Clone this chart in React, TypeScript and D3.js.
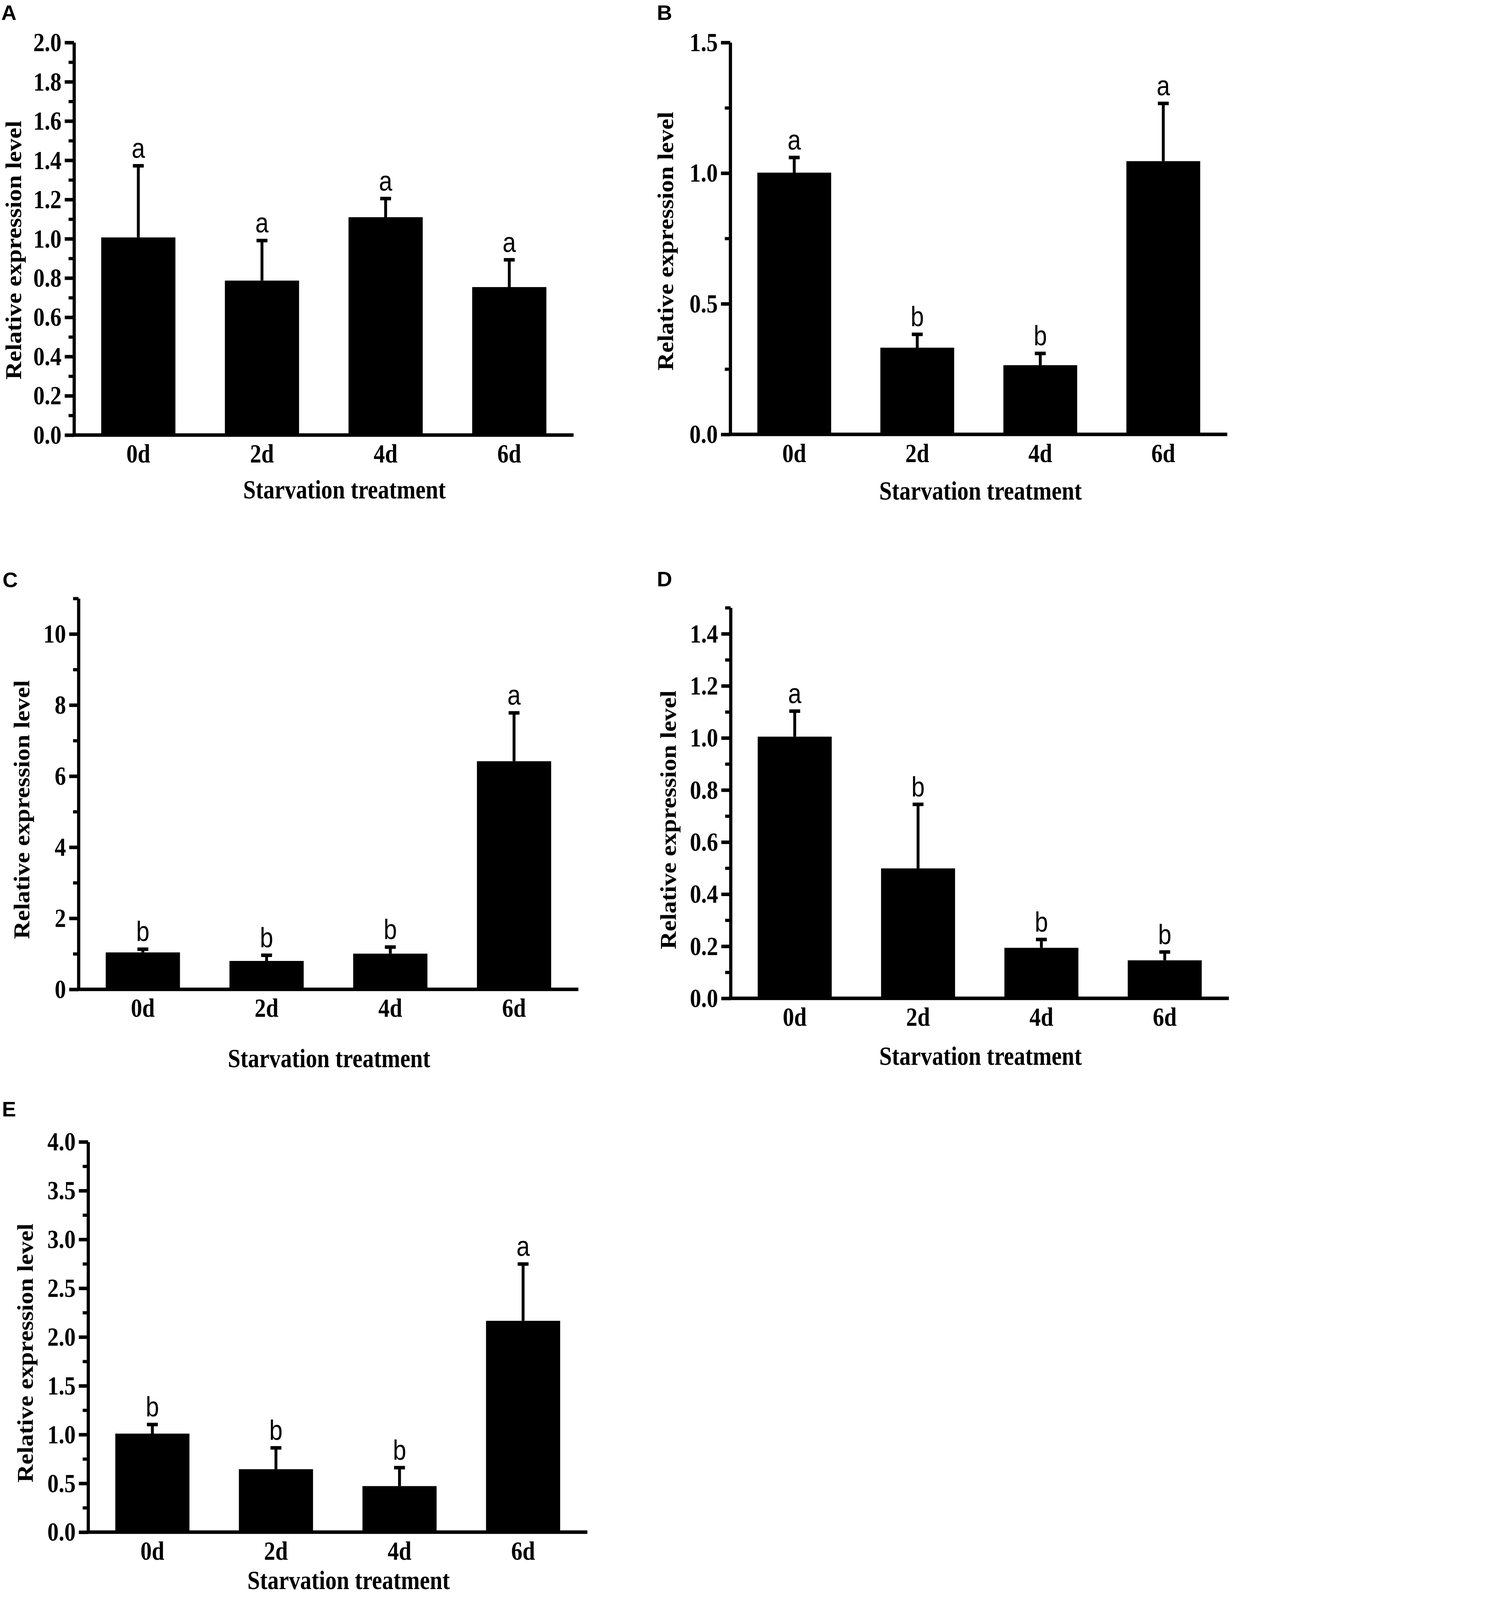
import React, { useEffect, useRef } from 'react';
import * as d3 from 'd3';

// categories shared by all five panels
const categories = ['0d', '2d', '4d', '6d'];

// panel A
const meansA = [1.007, 0.787, 1.11, 0.754];
const errorsA = [0.365, 0.204, 0.095, 0.139];
const lettersA = ['a', 'a', 'a', 'a'];
const majorTicksA = [0, 0.2, 0.4, 0.6, 0.8, 1.0, 1.2, 1.4, 1.6, 1.8, 2.0];
const minorTicksA = [0.1, 0.3, 0.5, 0.7, 0.9, 1.1, 1.3, 1.5, 1.7, 1.9];

// panel B
const meansB = [1.002, 0.332, 0.265, 1.046];
const errorsB = [0.058, 0.051, 0.045, 0.221];
const lettersB = ['a', 'b', 'b', 'a'];
const majorTicksB = [0, 0.5, 1.0, 1.5];
const minorTicksB = [0.25, 0.75, 1.25];

// panel C
const meansC = [1.04, 0.8, 1.005, 6.42];
const errorsC = [0.09, 0.16, 0.185, 1.36];
const lettersC = ['b', 'b', 'b', 'a'];
const majorTicksC = [0, 2, 4, 6, 8, 10];
const minorTicksC = [1, 3, 5, 7, 9, 11];

// panel D
const meansD = [1.005, 0.499, 0.194, 0.146];
const errorsD = [0.098, 0.246, 0.032, 0.032];
const lettersD = ['a', 'b', 'b', 'b'];
const majorTicksD = [0, 0.2, 0.4, 0.6, 0.8, 1.0, 1.2, 1.4];
const minorTicksD = [0.1, 0.3, 0.5, 0.7, 0.9, 1.1, 1.3, 1.5];

// panel E
const meansE = [1.01, 0.645, 0.472, 2.166];
const errorsE = [0.093, 0.219, 0.189, 0.582];
const lettersE = ['b', 'b', 'b', 'a'];
const majorTicksE = [0, 0.5, 1.0, 1.5, 2.0, 2.5, 3.0, 3.5, 4.0];
const minorTicksE = [0.25, 0.75, 1.25, 1.75, 2.25, 2.75, 3.25, 3.75];

const Y_TITLE = 'Relative expression level';
const X_TITLE = 'Starvation treatment';

const W = 3850;
const H = 4992;
const SERIF = '"Liberation Serif", "Times New Roman", serif';
const SANS = '"Liberation Sans", Arial, sans-serif';
const SX = 0.85; // the original figure is stretched vertically

const panels = [
  { id: 'A', means: meansA, errors: errorsA, letters: lettersA, yMax: 2.0, major: majorTicksA, minor: minorTicksA, fmt: '.1f',
    axisX: 231, top: 132, base: 1357, xEnd: 1790, label: [4, 62], yTitle: [45, 780], xTitleX: 1075, xTitleDy: 198 },
  { id: 'B', means: meansB, errors: errorsB, letters: lettersB, yMax: 1.5, major: majorTicksB, minor: minorTicksB, fmt: '.1f',
    axisX: 2279, top: 132, base: 1355, xEnd: 3830, label: [2050, 62], yTitle: [2079, 752], xTitleX: 3060, xTitleDy: 204 },
  { id: 'C', means: meansC, errors: errorsC, letters: lettersC, yMax: 11, major: majorTicksC, minor: minorTicksC, fmt: 'd',
    axisX: 245, top: 1867, base: 3087, xEnd: 1805, label: [8, 1831], yTitle: [70, 2526], xTitleX: 1027, xTitleDy: 243 },
  { id: 'D', means: meansD, errors: errorsD, letters: lettersD, yMax: 1.5, major: majorTicksD, minor: minorTicksD, fmt: '.1f',
    axisX: 2280, top: 1896, base: 3115, xEnd: 3835, label: [2050, 1829], yTitle: [2088, 2558], xTitleX: 3060, xTitleDy: 208 },
  { id: 'E', means: meansE, errors: errorsE, letters: lettersE, yMax: 4.0, major: majorTicksE, minor: minorTicksE, fmt: '.1f',
    axisX: 275, top: 3563, base: 4781, xEnd: 1833, label: [6, 3484], yTitle: [82, 4222], xTitleX: 1088, xTitleDy: 178 },
];

type Panel = typeof panels[number];

const drawPanel = (root: d3.Selection<SVGSVGElement, unknown, null, undefined>, p: Panel) => {
  const g = root.append('g');

  const x = d3.scaleBand<string>()
    .domain(categories)
    .range([p.axisX, p.xEnd])
    .paddingInner(0.4)
    .paddingOuter(0.22);

  const y = d3.scaleLinear()
    .domain([0, p.yMax])
    .range([p.base, p.top]);

  const cx = (i: number) => (x(categories[i]) || 0) + x.bandwidth() / 2;

  // bars
  g.selectAll('rect.bar')
    .data(p.means)
    .join('rect')
    .attr('class', 'bar')
    .attr('x', (_, i) => x(categories[i]) || 0)
    .attr('y', d => y(d))
    .attr('width', x.bandwidth())
    .attr('height', d => p.base - y(d))
    .attr('fill', '#000');

  // error bars (upper half only)
  g.selectAll('line.stem')
    .data(p.means)
    .join('line')
    .attr('class', 'stem')
    .attr('x1', (_, i) => cx(i))
    .attr('x2', (_, i) => cx(i))
    .attr('y1', d => y(d))
    .attr('y2', (d, i) => y(d + p.errors[i]))
    .attr('stroke', '#000')
    .attr('stroke-width', 9);

  g.selectAll('line.cap')
    .data(p.means)
    .join('line')
    .attr('class', 'cap')
    .attr('x1', (_, i) => cx(i) - 17)
    .attr('x2', (_, i) => cx(i) + 17)
    .attr('y1', (d, i) => y(d + p.errors[i]))
    .attr('y2', (d, i) => y(d + p.errors[i]))
    .attr('stroke', '#000')
    .attr('stroke-width', 11);

  // significance letters
  g.selectAll('text.sig')
    .data(p.letters)
    .join('text')
    .attr('class', 'sig')
    .attr('transform', (_, i) => `translate(${cx(i)},${y(p.means[i] + p.errors[i]) - 25}) scale(${SX},1)`)
    .attr('text-anchor', 'middle')
    .attr('font-family', SANS)
    .attr('font-size', 88)
    .text(d => d);

  // minor y ticks
  const minorAxis = g.append('g')
    .attr('transform', `translate(${p.axisX},0)`)
    .call(d3.axisLeft(y).tickValues(p.minor).tickSize(17).tickFormat(() => ''));
  minorAxis.select('.domain').remove();
  minorAxis.selectAll('.tick line').attr('stroke-width', 10);

  // major y ticks
  const yAxis = g.append('g')
    .attr('transform', `translate(${p.axisX},0)`)
    .call(d3.axisLeft(y).tickValues(p.major).tickSize(29).tickSizeOuter(0).tickPadding(10)
      .tickFormat(d => d3.format(p.fmt)(d as number)));
  yAxis.select('.domain').attr('stroke-width', 10);
  yAxis.selectAll('.tick line').attr('stroke-width', 11);
  yAxis.selectAll<SVGTextElement, unknown>('.tick text')
    .attr('x', -39 / SX)
    .attr('transform', `scale(${SX},1)`)
    .attr('font-family', SERIF)
    .attr('font-weight', 'bold')
    .attr('font-size', 83)
    .attr('fill', '#000');

  // x axis
  const xAxis = g.append('g')
    .attr('transform', `translate(0,${p.base})`)
    .call(d3.axisBottom(x).tickSize(0).tickSizeOuter(0));
  xAxis.select('.domain').attr('stroke-width', 11).attr('d', `M${p.axisX - 5},0H${p.xEnd}`);
  xAxis.selectAll('.tick text')
    .attr('y', 86)
    .attr('dy', 0)
    .attr('transform', `scale(${SX},1)`)
    .attr('font-family', SERIF)
    .attr('font-weight', 'bold')
    .attr('font-size', 83)
    .attr('fill', '#000');

  // axis titles
  g.append('text')
    .attr('transform', `translate(${p.yTitle[0]},${p.yTitle[1]}) rotate(-90)`)
    .attr('text-anchor', 'middle')
    .attr('dy', '0.3em')
    .attr('font-family', SERIF)
    .attr('font-weight', 'bold')
    .attr('font-size', 70)
    .attr('textLength', 808)
    .attr('lengthAdjust', 'spacingAndGlyphs')
    .text(Y_TITLE);

  g.append('text')
    .attr('x', p.xTitleX)
    .attr('y', p.base + p.xTitleDy)
    .attr('text-anchor', 'middle')
    .attr('font-family', SERIF)
    .attr('font-weight', 'bold')
    .attr('font-size', 82)
    .attr('textLength', 632)
    .attr('lengthAdjust', 'spacingAndGlyphs')
    .text(X_TITLE);

  // panel letter
  g.append('text')
    .attr('x', p.label[0])
    .attr('y', p.label[1])
    .attr('font-family', SANS)
    .attr('font-weight', 'bold')
    .attr('font-size', 66)
    .text(p.id);
};

const App: React.FC = () => {
  const ref = useRef<SVGSVGElement | null>(null);

  // the window may be shorter than the figure: fit the whole figure in it
  const fit = Math.min(1, window.innerWidth / W, window.innerHeight / H);

  useEffect(() => {
    document.body.style.margin = '0';
    if (!ref.current) return;
    const svg = d3.select(ref.current);
    svg.selectAll('*').remove();
    svg.append('rect').attr('width', W).attr('height', H).attr('fill', '#fff');
    panels.forEach(p => drawPanel(svg, p));
  }, []);

  return (
    <svg
      ref={ref}
      width={Math.floor(W * fit)}
      height={Math.floor(H * fit)}
      viewBox={`0 0 ${W} ${H}`}
      style={{ display: 'block' }}
    />
  );
};

export default App;
